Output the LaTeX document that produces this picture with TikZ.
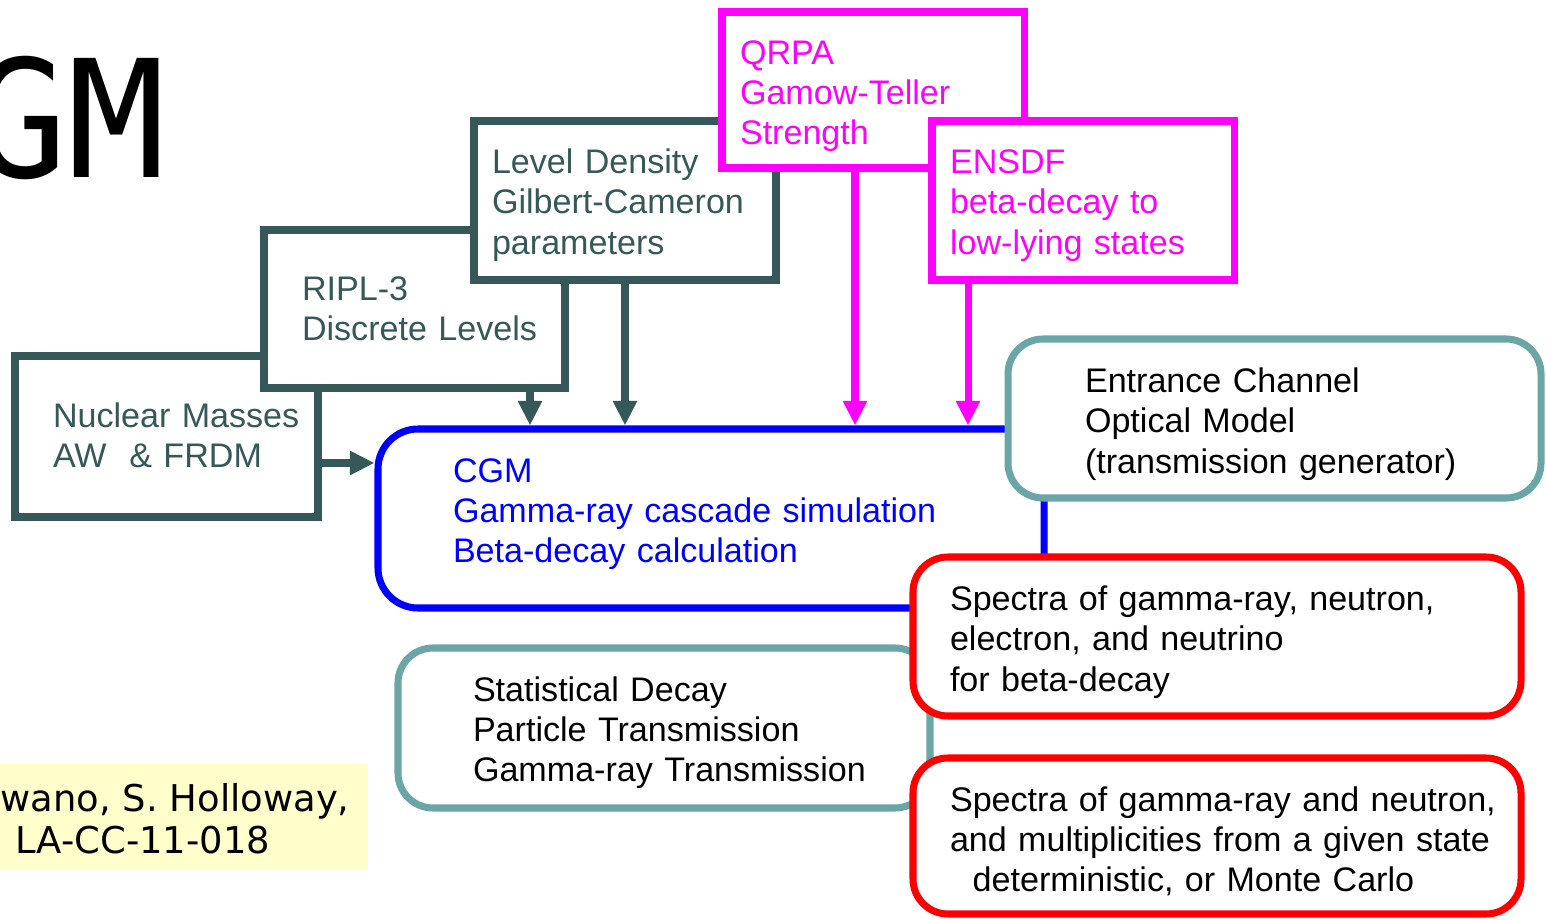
\documentclass[tikz,border=0pt]{standalone}
\usepackage{fontspec}
\setmainfont{Liberation Sans}
\newfontfamily\monofam{DejaVu Sans Mono}
\newfontfamily\dejafam{DejaVu Sans}
\usetikzlibrary{arrows.meta}
\definecolor{slate}{RGB}{54,88,88}
\definecolor{tealish}{RGB}{106,166,166}
\definecolor{pinkmag}{RGB}{255,0,255}
\definecolor{notebg}{RGB}{255,255,204}
\hyphenpenalty=10000
\exhyphenpenalty=10000

\begin{document}
\begin{tikzpicture}[font=\fontsize{19.4}{22.85}\selectfont,
  dark/.style={draw=slate, text=slate, fill=white, line width=4pt, inner ysep=0pt, align=left, text height=15pt},
  pinkbox/.style={draw=pinkmag, text=pinkmag, fill=white, line width=4pt, inner ysep=0pt, align=left, text height=15pt},
  bluebox/.style={draw=blue, text=blue, fill=white, line width=4pt, inner ysep=0pt, align=left, text height=15pt, rounded corners=0.8cm},
  tealbox/.style={draw=tealish, text=black, fill=white, line width=4pt, inner ysep=0pt, align=left, text height=15pt, rounded corners=0.7cm},
  redbox/.style={draw=red, text=black, fill=white, line width=4pt, inner ysep=0pt, align=left, text height=15pt, rounded corners=0.7cm},
  darrow/.style={draw=slate, line width=4pt, -{Triangle[width=13pt, length=14pt]}},
  parrow/.style={draw=pinkmag, line width=4pt, -{Triangle[width=13pt, length=14pt]}}]

\useasboundingbox (0,0) rectangle (30.92,-18.4);

% title and credit
\node[anchor=base west, inner sep=0pt, font=\monofam\fontsize{93}{100}\selectfont] (title) at (-0.62,-3.56) {GM};
\fill[notebg] (0,-15.26) rectangle (7.36,-17.4);
\node[anchor=base east, inner sep=0pt, font=\dejafam\fontsize{21}{24}\selectfont] (who) at (7.0,-16.22) {wano, S. Holloway,};
\node[anchor=base west, inner sep=0pt, font=\dejafam\fontsize{21}{24}\selectfont] (lacc) at (0.3,-17.06) {LA-CC-11-018};

% input boxes
\node[dark, text width=4.54cm, inner xsep=0.76cm, minimum height=3.22cm, text depth=24.85pt] (5) at (3.33,-8.73) {Nuclear~Masses\\AW~~\&~FRDM};
\node[dark, text width=4.5cm, inner xsep=0.76cm, minimum height=3.16cm, text depth=24.85pt] (4) at (8.29,-6.18) {RIPL-3\\Discrete~Levels};
\node[dark, text width=5.32cm, inner xsep=0.36cm, minimum height=3.18cm, text depth=45.5pt] (3) at (12.5,-4.01) {Level Density\\Gilbert-Cameron\\parameters};
\node[pinkbox, text width=5.32cm, inner xsep=0.36cm, minimum height=3.12cm, text depth=44.3pt] (1) at (17.46,-1.8) {QRPA\\Gamow-Teller\\Strength};
\node[pinkbox, text width=5.32cm, inner xsep=0.36cm, minimum height=3.18cm, text depth=45.5pt] (2) at (21.66,-4.01) {ENSDF\\beta-decay to\\low-lying states};

% code and outputs
\node[bluebox, text width=10.32cm, inner xsep=1.5cm, minimum height=3.58cm, text depth=56.1pt] (6) at (14.22,-10.37) {CGM\\Gamma-ray cascade simulation\\Beta-decay calculation};
\node[tealbox, text width=7.58cm, inner xsep=1.54cm, minimum height=3.18cm, text depth=44.3pt] (7) at (25.49,-8.37) {Entrance Channel\\Optical Model\\(transmission generator)};
\node[tealbox, text width=7.64cm, inner xsep=1.5cm, minimum height=3.2cm, text depth=45.5pt] (9) at (13.28,-14.56) {Statistical Decay\\Particle Transmission\\Gamma-ray~Transmission};
\node[redbox, text width=10.68cm, inner xsep=0.74cm, minimum height=3.18cm, text depth=44.3pt] (8) at (24.34,-12.73) {Spectra of gamma-ray, neutron,\\electron, and neutrino\\for beta-decay};
\node[redbox, text width=10.68cm, inner xsep=0.74cm, minimum height=3.12cm, text depth=43.1pt] (10) at (24.34,-16.72) {Spectra~of~gamma-ray~and~neutron,\\and~multiplicities~from~a~given~state\\~~deterministic,~or~Monte~Carlo};

\draw[darrow] ([yshift=-0.53cm]5.east) -- ([yshift=-0.53cm]5.east -| 6.west);
\draw[darrow] ([xshift=2.31cm]4.south) -- ([xshift=2.31cm]4.south |- 6.north);
\draw[darrow] (3.south) -- (3.south |- 6.north);
\draw[parrow] ([xshift=-0.36cm]1.south) -- ([xshift=-0.36cm]1.south |- 6.north);
\draw[parrow] ([xshift=-2.3cm]2.south) -- ([xshift=-2.3cm]2.south |- 6.north);

\end{tikzpicture}
\end{document}
